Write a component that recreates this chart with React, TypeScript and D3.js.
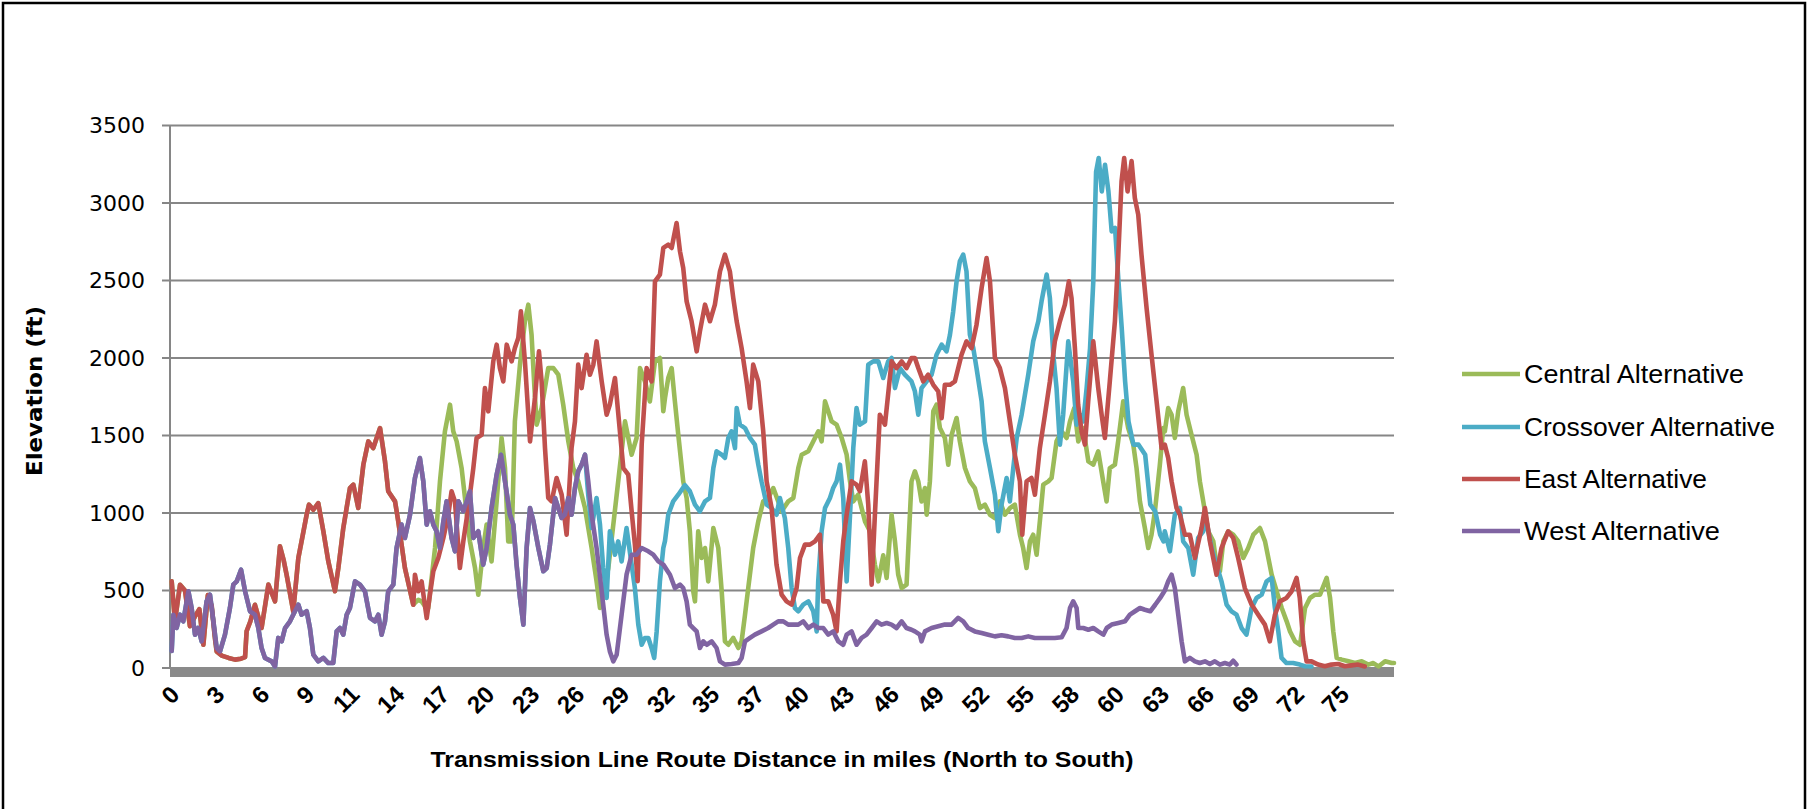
import React from "react";
import * as d3 from "d3";

type Pt = [number, number];

const W = 1813;
const H = 809;

// x tick labels (miles, shown every category step)
const xTickLabels = ["0","3","6","9","11","14","17","20","23","26","29","32","35","37","40","43","46","49","52","55","58","60","63","66","69","72","75"];
const labelStepMiles = 2.913;
const yTicks = [0, 500, 1000, 1500, 2000, 2500, 3000, 3500];

const seriesNames = ["Central Alternative", "Crossover Alternative", "East Alternative", "West Alternative"];
const seriesColors = ["#9BBB59", "#4BACC6", "#C0504D", "#8064A2"];

// East Alternative (mile, elevation ft)
const eastData: Pt[] = [[0.11,559],[0.32,301],[0.65,537],[0.97,500],[1.29,270],[1.6,330],[1.9,380],[2.16,150],[2.45,470],[2.7,400],[2.9,200],[3.02,107],[3.34,80],[3.8,65],[4.21,54],[4.6,60],[4.86,70],[4.96,237],[5.2,300],[5.5,408],[5.93,258],[6.37,538],[6.8,430],[7.12,785],[7.35,700],[7.55,602],[7.98,366],[8.31,710],[8.6,860],[8.85,990],[9.0,1054],[9.28,1021],[9.6,1064],[9.93,882],[10.25,688],[10.68,495],[10.9,645],[11.22,903],[11.65,1161],[11.87,1183],[12.19,1032],[12.52,1312],[12.84,1462],[13.16,1419],[13.6,1548],[13.92,1333],[14.13,1140],[14.57,1075],[14.78,946],[15.21,645],[15.75,408],[15.86,602],[16.08,495],[16.29,559],[16.62,322],[16.83,473],[17.05,624],[17.37,710],[17.7,839],[18.02,989],[18.23,1140],[18.45,1075],[18.77,645],[18.99,817],[19.31,1032],[19.64,1290],[19.85,1484],[20.18,1505],[20.39,1806],[20.61,1656],[20.93,1978],[21.15,2086],[21.36,1935],[21.58,1849],[21.8,2086],[22.12,1978],[22.33,2064],[22.55,2129],[22.72,2301],[22.98,1978],[23.31,1462],[23.63,1742],[23.89,2043],[24.06,1849],[24.28,1419],[24.49,1097],[24.71,1075],[25.03,1226],[25.36,1118],[25.68,860],[26.0,1419],[26.22,1591],[26.43,1957],[26.65,1806],[26.97,2021],[27.19,1892],[27.41,1957],[27.62,2107],[27.95,1849],[28.27,1634],[28.48,1699],[28.81,1871],[29.13,1527],[29.35,1290],[29.67,1247],[29.89,1011],[30.1,796],[30.28,560],[30.54,1441],[30.86,1935],[31.18,1849],[31.4,2494],[31.72,2538],[31.94,2710],[32.26,2731],[32.48,2710],[32.8,2871],[33.02,2688],[33.23,2581],[33.45,2365],[33.77,2237],[34.1,2043],[34.31,2172],[34.64,2344],[34.96,2237],[35.28,2344],[35.61,2559],[35.93,2667],[36.25,2559],[36.47,2387],[36.69,2237],[37.01,2064],[37.33,1849],[37.55,1677],[37.76,1957],[38.09,1849],[38.41,1527],[38.63,1204],[38.95,1032],[39.27,667],[39.6,473],[39.92,430],[40.25,409],[40.57,516],[40.79,710],[41.11,796],[41.43,796],[41.76,817],[42.08,860],[42.3,430],[42.62,430],[42.94,344],[43.16,236],[43.38,559],[43.59,817],[43.81,989],[44.13,1204],[44.45,1183],[44.67,1140],[44.99,1333],[45.21,1054],[45.43,538],[45.64,989],[45.96,1634],[46.29,1570],[46.72,1978],[47.04,1935],[47.37,1978],[47.69,1935],[48.01,2000],[48.23,2000],[48.45,1935],[48.77,1849],[49.09,1892],[49.42,1827],[49.74,1785],[49.96,1612],[50.17,1827],[50.5,1827],[50.82,1849],[51.25,2021],[51.57,2107],[51.9,2064],[52.22,2215],[52.55,2452],[52.87,2645],[53.09,2495],[53.41,2000],[53.73,1935],[54.06,1806],[54.38,1591],[54.7,1376],[55.03,1204],[55.18,860],[55.46,1204],[55.78,1226],[56.0,1118],[56.32,1419],[56.65,1634],[56.97,1849],[57.29,2107],[57.62,2237],[57.94,2344],[58.2,2495],[58.37,2387],[58.59,2064],[58.8,1699],[59.02,1527],[59.24,1441],[59.45,1720],[59.78,2107],[60.1,1806],[60.32,1634],[60.53,1484],[60.85,1849],[61.18,2237],[61.39,2645],[61.61,3140],[61.78,3290],[62.0,3075],[62.26,3270],[62.47,3032],[62.69,2925],[62.9,2667],[63.23,2323],[63.55,2021],[63.88,1720],[64.2,1419],[64.41,1441],[64.63,1355],[64.85,1204],[65.17,1032],[65.39,989],[65.71,860],[66.03,860],[66.36,710],[66.79,903],[67.01,1032],[67.33,817],[67.76,602],[68.08,774],[68.51,882],[68.84,839],[69.16,710],[69.59,516],[70.03,409],[70.46,344],[70.89,280],[71.21,172],[71.54,344],[71.86,430],[72.29,452],[72.62,495],[72.94,581],[73.15,452],[73.37,172],[73.59,43],[73.91,43],[74.34,22],[74.77,11],[75.2,22],[75.64,26],[76.07,11],[76.5,17],[76.93,22],[77.36,10]];

// Central Alternative shares the East route for the first ~15.7 miles
const centralShared: Pt[] = eastData.filter((d) => d[0] <= 15.75);
const centralRest: Pt[] = [[15.86,420],[16.08,440],[16.29,430],[16.5,400],[16.72,387],[17.16,774],[17.48,1204],[17.8,1527],[18.13,1699],[18.34,1527],[18.56,1462],[18.88,1290],[19.1,1097],[19.42,817],[19.75,645],[19.96,473],[20.28,774],[20.5,925],[20.82,688],[21.15,1075],[21.47,1484],[21.69,1290],[21.9,817],[22.12,817],[22.33,1591],[22.66,1957],[22.98,2237],[23.2,2344],[23.41,2150],[23.6,1800],[23.74,1570],[24.06,1677],[24.49,1935],[24.82,1935],[25.14,1892],[25.46,1699],[25.79,1462],[26.11,1290],[26.43,1204],[26.87,1032],[27.3,774],[27.62,559],[27.84,387],[28.38,645],[28.7,923],[29.02,1204],[29.46,1591],[29.89,1376],[30.21,1484],[30.43,1935],[30.75,1849],[31.07,1720],[31.4,1978],[31.72,2000],[31.94,1656],[32.05,1742],[32.26,1871],[32.48,1935],[32.69,1720],[32.91,1505],[33.23,1204],[33.45,1097],[33.66,882],[33.88,495],[33.99,430],[34.2,882],[34.42,710],[34.64,774],[34.85,559],[35.18,903],[35.5,774],[35.72,495],[35.93,172],[36.15,150],[36.47,194],[36.8,129],[37.01,172],[37.23,344],[37.44,516],[37.76,774],[38.09,946],[38.41,1075],[38.73,1097],[39.06,1161],[39.38,1075],[39.6,1011],[40.03,1075],[40.36,1097],[40.68,1290],[40.9,1376],[41.33,1398],[41.76,1484],[41.98,1527],[42.19,1462],[42.41,1720],[42.62,1656],[42.84,1591],[43.16,1570],[43.49,1484],[43.81,1376],[44.03,1204],[44.24,1075],[44.56,1118],[45.0,946],[45.32,882],[45.64,667],[45.86,559],[46.18,727],[46.4,581],[46.72,989],[46.94,817],[47.15,602],[47.37,516],[47.69,538],[48.01,1204],[48.23,1269],[48.45,1204],[48.66,1075],[48.88,1161],[48.99,989],[49.2,1204],[49.42,1656],[49.63,1699],[49.85,1548],[50.17,1484],[50.39,1312],[50.61,1505],[50.93,1613],[51.14,1462],[51.47,1290],[51.79,1204],[52.11,1161],[52.44,1032],[52.76,1054],[53.09,989],[53.41,968],[53.73,1075],[54.06,989],[54.38,1032],[54.7,1054],[55.03,860],[55.24,774],[55.46,645],[55.68,817],[55.89,860],[56.11,731],[56.32,946],[56.54,1183],[56.87,1204],[57.08,1226],[57.4,1462],[57.73,1527],[58.05,1484],[58.27,1591],[58.55,1677],[58.81,1462],[59.13,1548],[59.46,1333],[59.78,1312],[60.1,1398],[60.42,1204],[60.64,1075],[60.85,1290],[61.18,1312],[61.39,1462],[61.72,1720],[62.04,1548],[62.37,1441],[62.58,1290],[62.8,1075],[63.12,903],[63.34,774],[63.55,860],[63.77,1011],[64.09,1312],[64.31,1548],[64.41,1527],[64.63,1677],[64.85,1634],[65.06,1484],[65.28,1656],[65.6,1806],[65.82,1634],[66.14,1505],[66.47,1376],[66.68,1204],[66.9,1075],[67.22,882],[67.55,817],[67.76,667],[67.98,624],[68.2,817],[68.52,882],[68.84,860],[69.17,817],[69.49,710],[69.81,774],[70.14,860],[70.57,903],[70.9,817],[71.33,602],[71.65,495],[71.98,387],[72.3,301],[72.52,236],[72.84,172],[73.17,150],[73.49,387],[73.81,452],[74.14,473],[74.46,473],[74.89,581],[75.11,452],[75.32,236],[75.54,65],[75.87,54],[76.3,43],[76.73,32],[77.16,43],[77.59,22],[77.91,32],[78.24,10],[78.67,43],[79.1,32],[79.25,32]];
const centralData: Pt[] = centralShared.concat(centralRest);

// West Alternative
const westData: Pt[] = [[0.11,110],[0.22,344],[0.43,258],[0.65,344],[0.86,301],[1.19,495],[1.4,387],[1.62,215],[1.83,258],[2.05,172],[2.37,430],[2.59,473],[2.81,301],[3.02,129],[3.24,107],[3.56,215],[3.88,387],[4.1,538],[4.32,559],[4.6,634],[4.86,495],[5.18,366],[5.5,344],[5.72,258],[5.93,129],[6.15,65],[6.58,43],[6.8,10],[7.01,194],[7.23,172],[7.45,258],[7.77,301],[8.09,366],[8.31,408],[8.52,344],[8.85,366],[9.06,258],[9.28,86],[9.6,43],[9.93,65],[10.25,32],[10.57,32],[10.79,236],[11.0,258],[11.22,215],[11.44,344],[11.65,387],[11.98,559],[12.3,538],[12.62,495],[12.95,323],[13.27,301],[13.49,344],[13.7,215],[13.92,301],[14.13,495],[14.46,538],[14.67,774],[14.99,925],[15.21,839],[15.54,989],[15.86,1226],[16.18,1355],[16.4,1204],[16.62,925],[16.83,1011],[17.05,925],[17.26,882],[17.48,774],[17.7,946],[17.91,1075],[18.23,839],[18.45,753],[18.67,1075],[18.99,1011],[19.21,1075],[19.42,1140],[19.64,839],[19.96,882],[20.28,667],[20.5,774],[20.82,1032],[21.15,1247],[21.43,1376],[21.69,1204],[22.01,989],[22.23,925],[22.44,667],[22.66,452],[22.88,280],[23.09,774],[23.31,1032],[23.53,946],[23.85,774],[24.17,624],[24.39,645],[24.6,796],[24.93,1097],[25.14,1032],[25.36,968],[25.57,989],[25.79,1097],[26.0,989],[26.22,1161],[26.43,1269],[26.65,1312],[26.87,1376],[27.08,1204],[27.3,989],[27.62,774],[27.95,495],[28.27,215],[28.48,107],[28.7,43],[28.92,86],[29.24,344],[29.56,602],[29.89,731],[30.21,731],[30.54,774],[30.97,753],[31.29,731],[31.62,688],[31.94,667],[32.37,602],[32.69,516],[33.02,538],[33.23,516],[33.45,430],[33.66,280],[33.88,258],[34.1,236],[34.31,129],[34.53,172],[34.75,150],[35.07,172],[35.39,129],[35.61,43],[35.93,22],[36.36,26],[36.8,32],[37.01,65],[37.23,172],[37.55,194],[37.87,215],[38.3,236],[38.73,258],[39.06,280],[39.38,301],[39.71,301],[40.03,280],[40.36,280],[40.68,280],[41.0,301],[41.33,258],[41.65,280],[41.97,258],[42.3,258],[42.62,215],[42.94,236],[43.27,172],[43.59,150],[43.81,215],[44.13,236],[44.45,150],[44.78,194],[45.1,215],[45.43,258],[45.75,301],[46.07,280],[46.4,290],[46.72,280],[47.04,258],[47.37,301],[47.69,258],[48.01,247],[48.23,236],[48.55,215],[48.66,172],[48.88,236],[49.31,258],[49.74,269],[50.17,280],[50.6,280],[51.03,323],[51.36,301],[51.68,258],[52.11,236],[52.55,226],[52.98,215],[53.41,204],[53.84,211],[54.27,204],[54.7,194],[55.14,194],[55.57,204],[56.0,194],[56.43,194],[56.86,194],[57.29,194],[57.73,198],[58.05,258],[58.27,387],[58.48,430],[58.7,387],[58.81,258],[59.13,258],[59.46,247],[59.78,258],[60.1,236],[60.43,215],[60.65,258],[60.97,280],[61.4,290],[61.83,301],[62.15,344],[62.48,366],[62.8,387],[63.12,376],[63.47,366],[63.79,408],[64.11,452],[64.41,500],[64.63,559],[64.85,602],[65.06,516],[65.28,344],[65.5,172],[65.71,43],[66.03,65],[66.36,43],[66.68,32],[67.01,43],[67.33,26],[67.65,43],[67.98,22],[68.3,32],[68.62,22],[68.84,47],[69.05,22]];

// Crossover Alternative shares the West route for the first ~27 miles
const crossoverShared: Pt[] = westData.filter((d) => d[0] <= 26.87);
const crossoverRest: Pt[] = [[27.08,1118],[27.3,903],[27.62,1097],[27.84,925],[28.05,645],[28.27,452],[28.48,882],[28.81,731],[29.02,817],[29.24,688],[29.56,903],[29.89,667],[30.1,516],[30.32,280],[30.54,150],[30.75,194],[30.97,194],[31.18,129],[31.35,65],[31.51,236],[31.72,559],[31.94,774],[32.05,820],[32.26,989],[32.58,1075],[32.91,1118],[33.34,1180],[33.66,1140],[33.99,1054],[34.31,1011],[34.64,1075],[34.96,1097],[35.18,1290],[35.39,1398],[35.72,1376],[35.93,1355],[36.15,1484],[36.36,1527],[36.58,1419],[36.69,1677],[36.9,1570],[37.23,1548],[37.55,1484],[37.87,1441],[38.09,1312],[38.3,1204],[38.63,1054],[38.95,1032],[39.27,989],[39.49,1097],[39.81,968],[40.03,774],[40.25,516],[40.46,387],[40.68,366],[41.0,409],[41.33,430],[41.65,366],[41.87,236],[41.97,559],[42.19,882],[42.41,1032],[42.73,1097],[42.94,1161],[43.16,1204],[43.38,1312],[43.59,1097],[43.81,559],[44.03,989],[44.24,1419],[44.45,1677],[44.67,1570],[45.0,1591],[45.21,1957],[45.53,1978],[45.86,1978],[46.18,1871],[46.5,1978],[46.72,2000],[46.94,1806],[47.26,1935],[47.58,1892],[48.01,1849],[48.23,1785],[48.45,1634],[48.66,1806],[48.99,1849],[49.31,1892],[49.63,2021],[49.96,2086],[50.28,2043],[50.5,2150],[50.71,2301],[50.93,2495],[51.14,2624],[51.36,2667],[51.57,2559],[51.79,2150],[52.01,2064],[52.22,1935],[52.55,1720],[52.76,1462],[53.09,1290],[53.41,1118],[53.63,882],[53.84,1054],[54.17,1226],[54.38,1075],[54.6,1290],[54.82,1484],[55.14,1634],[55.57,1892],[55.89,2107],[56.22,2237],[56.43,2366],[56.76,2538],[56.97,2387],[57.19,2021],[57.4,1806],[57.62,1441],[57.83,1634],[58.16,2107],[58.48,1849],[58.7,1570],[58.92,1634],[59.13,1591],[59.35,1806],[59.57,2064],[59.78,2495],[59.96,3200],[60.13,3290],[60.33,3075],[60.54,3247],[60.76,3075],[60.97,2817],[61.19,2839],[61.41,2495],[61.62,2194],[61.84,1849],[62.06,1591],[62.38,1441],[62.71,1441],[63.14,1376],[63.47,1054],[63.79,1011],[64.11,860],[64.33,817],[64.41,882],[64.74,753],[65.06,989],[65.39,1032],[65.6,817],[65.93,774],[66.25,602],[66.57,839],[66.9,882],[67.11,946],[67.44,774],[67.76,667],[68.08,559],[68.41,409],[68.73,366],[69.05,344],[69.38,258],[69.7,215],[70.03,387],[70.35,452],[70.68,473],[71.0,559],[71.33,581],[71.54,387],[71.76,236],[71.97,65],[72.29,32],[72.72,32],[73.15,22],[73.48,11],[73.91,10]];
const crossoverData: Pt[] = crossoverShared.concat(crossoverRest);

const seriesData: Pt[][] = [centralData, crossoverData, eastData, westData];

export default function App() {
  const x = d3.scaleLinear().domain([0, 79.25]).range([170, 1394]);
  const y = d3.scaleLinear().domain([0, 3500]).range([668, 125.5]);
  const line = d3
    .line<Pt>()
    .x((d) => x(d[0]))
    .y((d) => y(d[1]));

  const legendX = 1462;
  const legendYs = [374, 427, 479, 531];
  const legendLens = [220, 251, 183, 196];

  return (
    <svg
      width={W}
      height={H}
      viewBox={`0 0 ${W} ${H}`}
      style={{ position: "absolute", left: 0, top: 0, background: "#fff" }}
    >
      <rect x={0} y={0} width={W} height={H} fill="#fff" />
      <path d={`M3,${H} V3 H1805 V${H}`} fill="none" stroke="#000" strokeWidth={2.5} />

      {/* gridlines */}
      {yTicks.map((t) => (
        <line key={t} x1={x(0) - 8} x2={x(79.25)} y1={y(t)} y2={y(t)} stroke="#868686" strokeWidth={2} />
      ))}
      {/* y axis */}
      <line x1={x(0)} x2={x(0)} y1={y(3500)} y2={y(0)} stroke="#868686" strokeWidth={2} />
      {/* floor band */}
      <rect x={x(0)} y={y(0) - 1} width={x(79.25) - x(0)} height={10} fill="#8a8a8a" />

      {/* y tick labels */}
      {yTicks.map((t) => (
        <text
          key={t}
          x={145}
          y={y(t)}
          dy="0.36em"
          textAnchor="end"
          fontFamily="DejaVu Sans, Verdana, sans-serif"
          fontSize={22}
          fill="#000"
        >
          {t}
        </text>
      ))}

      {/* series */}
      {seriesData.map((data, i) => (
        <path
          key={seriesNames[i]}
          d={line(data) || ""}
          fill="none"
          stroke={seriesColors[i]}
          strokeWidth={4.6}
          strokeLinejoin="round"
          strokeLinecap="round"
        />
      ))}

      {/* x tick labels */}
      {xTickLabels.map((lab, i) => {
        const tx = x(i * labelStepMiles) + 5;
        const ty = 690;
        return (
          <text
            key={lab + i}
            transform={`translate(${tx},${ty}) rotate(-45)`}
            dy="0.35em"
            textAnchor="end"
            fontFamily="Liberation Sans, Arial, sans-serif"
            fontWeight="bold"
            fontSize={24}
            fill="#000"
          >
            {lab}
          </text>
        );
      })}

      {/* axis titles */}
      <text
        x={782}
        y={767}
        textAnchor="middle"
        fontFamily="Liberation Sans, Arial, sans-serif"
        fontWeight="bold"
        fontSize={22}
        textLength={703}
        lengthAdjust="spacingAndGlyphs"
        fill="#000"
      >
        Transmission Line Route Distance in miles (North to South)
      </text>
      <text
        transform="translate(42,391) rotate(-90)"
        textAnchor="middle"
        fontFamily="DejaVu Sans, Verdana, sans-serif"
        fontWeight="bold"
        fontSize={21}
        textLength={170}
        lengthAdjust="spacingAndGlyphs"
        fill="#000"
      >
        Elevation (ft)
      </text>

      {/* legend */}
      {seriesNames.map((name, i) => (
        <g key={name}>
          <line
            x1={legendX}
            x2={legendX + 58}
            y1={legendYs[i]}
            y2={legendYs[i]}
            stroke={seriesColors[i]}
            strokeWidth={4.6}
          />
          <text
            x={legendX + 62}
            y={legendYs[i] + 9}
            fontFamily="Liberation Sans, Arial, sans-serif"
            fontSize={25}
            textLength={legendLens[i]}
            lengthAdjust="spacingAndGlyphs"
            fill="#000"
          >
            {name}
          </text>
        </g>
      ))}
    </svg>
  );
}
